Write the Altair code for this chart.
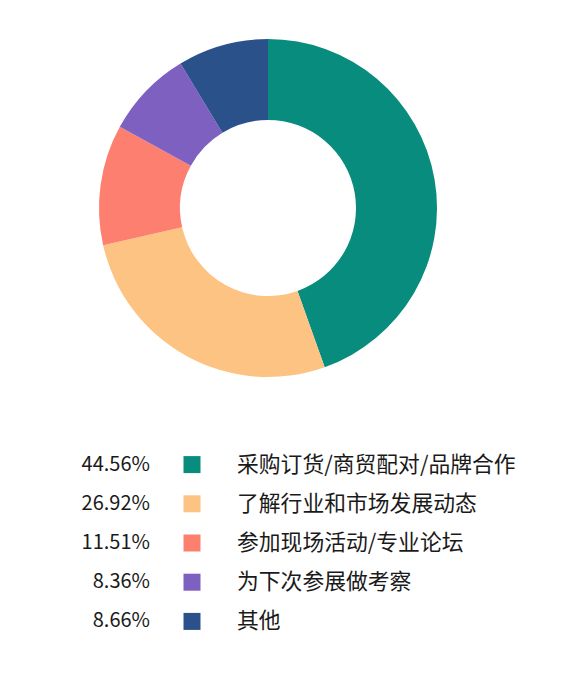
import altair as alt
import pandas as pd

categories = ["采购订货/商贸配对/品牌合作", "了解行业和市场发展动态", "参加现场活动/专业论坛", "为下次参展做考察", "其他"]
values = [44.56, 26.92, 11.51, 8.36, 8.66]
labels = ["44.56%", "26.92%", "11.51%", "8.36%", "8.66%"]
colors = ["#078c7e", "#fdc383", "#fd7f6f", "#7e60c0", "#2a5189"]

df = pd.DataFrame({"cat": categories, "value": values, "label": labels, "order": list(range(len(categories)))})

color = alt.Color("cat:N", scale=alt.Scale(domain=categories, range=colors), legend=None)

pie = alt.Chart(df).mark_arc(innerRadius=88, outerRadius=169).encode(
    theta=alt.Theta("value:Q", stack=True),
    order=alt.Order("order:Q"),
    color=color,
).properties(width=520, height=400)

yenc = alt.Y("cat:N", sort=categories, axis=None, scale=alt.Scale(type="point", padding=0.5))
font = "Noto Sans CJK SC"

pct = alt.Chart(df).mark_text(align="right", baseline="middle", fontSize=20, font=font, color="#1a1a1a").encode(
    x=alt.value(142), y=yenc, text="label:N")
sq = alt.Chart(df).mark_square(size=289, opacity=1).encode(
    x=alt.value(184), y=yenc, color=color)
txt = alt.Chart(df).mark_text(align="left", baseline="middle", fontSize=21.8, font=font, color="#1a1a1a").encode(
    x=alt.value(229), y=yenc, text="cat:N")

legend = alt.layer(pct, sq, txt).properties(width=520, height=196)

chart = alt.vconcat(pie, legend, spacing=37).properties(padding=0).configure_view(stroke=None)
chart.save("out.html", embed_options={"renderer": "svg", "actions": False})
